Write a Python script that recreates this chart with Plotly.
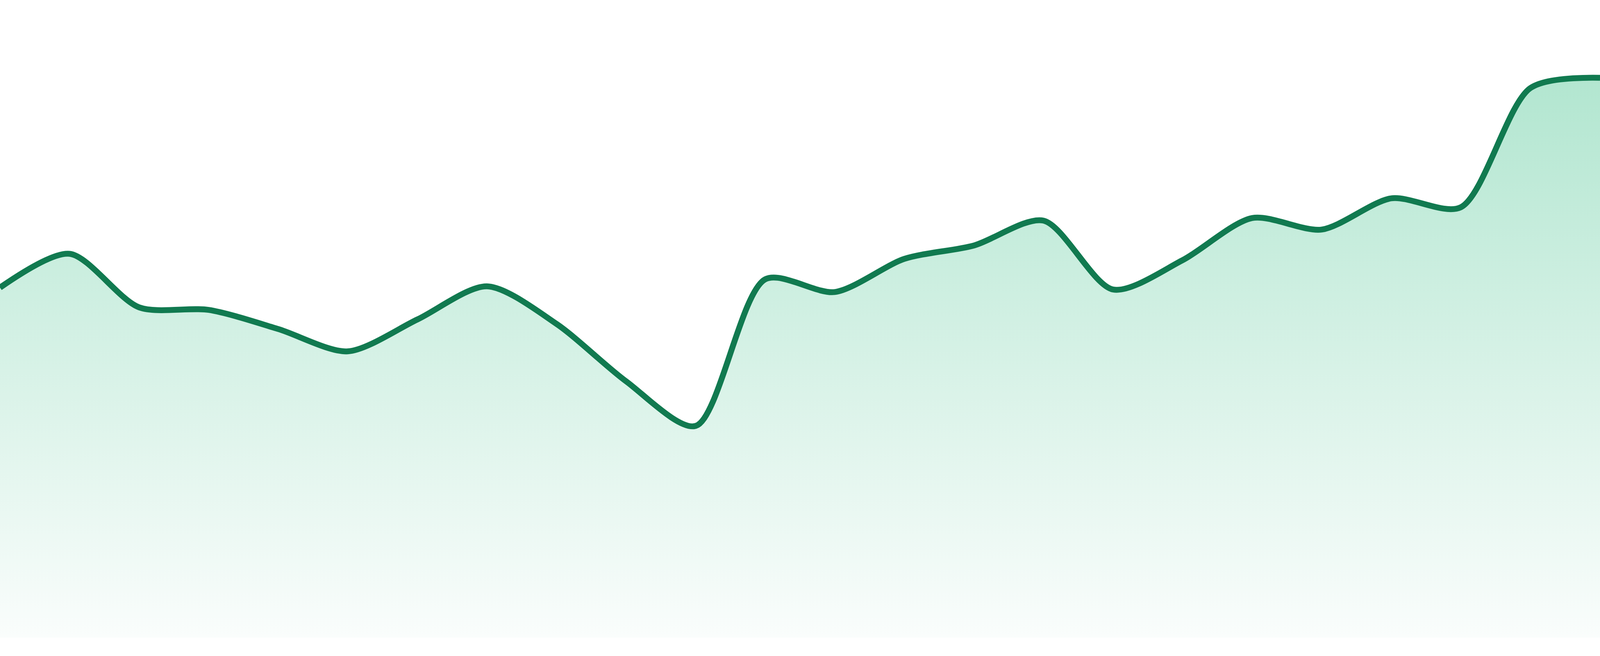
import plotly.graph_objects as go

# Data (axis hidden; value scale 0-100)
periods = list(range(24))
values = [54.9, 60.2, 51.8, 51.4, 48.4, 44.9, 49.9, 55.1, 49.2, 40.2, 33.2, 56.2,
          54.2, 59.4, 61.5, 65.4, 54.6, 59.2, 65.8, 64.0, 68.9, 67.5, 86.2, 87.8]

LINE_COLOR = "#117a50"
FILL_TOP = "rgb(178,230,208)"
FILL_BOTTOM = "rgb(250,253,252)"

fig = go.Figure()
fig.add_trace(go.Scatter(
    x=periods,
    y=values,
    mode="lines",
    line=dict(color=LINE_COLOR, width=15, shape="spline", smoothing=0.8),
    fill="tozeroy",
    fillgradient=dict(
        type="vertical",
        colorscale=[[0, FILL_BOTTOM], [1, FILL_TOP]],
        start=0,
        stop=max(values),
    ),
    hoverinfo="skip",
    showlegend=False,
))

fig.update_layout(
    autosize=True,
    margin=dict(l=0, r=0, t=0, b=0, pad=0),
    paper_bgcolor="white",
    plot_bgcolor="white",
    xaxis=dict(visible=False, range=[0, 23], fixedrange=True),
    yaxis=dict(visible=False, range=[0, 100], domain=[0.028, 1], fixedrange=True),
)

fig.write_html(
    "out.html",
    config={"displayModeBar": False, "staticPlot": True, "responsive": True},
    default_width="100vw",
    default_height="100vh",
    post_script="document.body.style.margin='0';document.body.style.overflow='hidden';window.dispatchEvent(new Event('resize'));",
)
